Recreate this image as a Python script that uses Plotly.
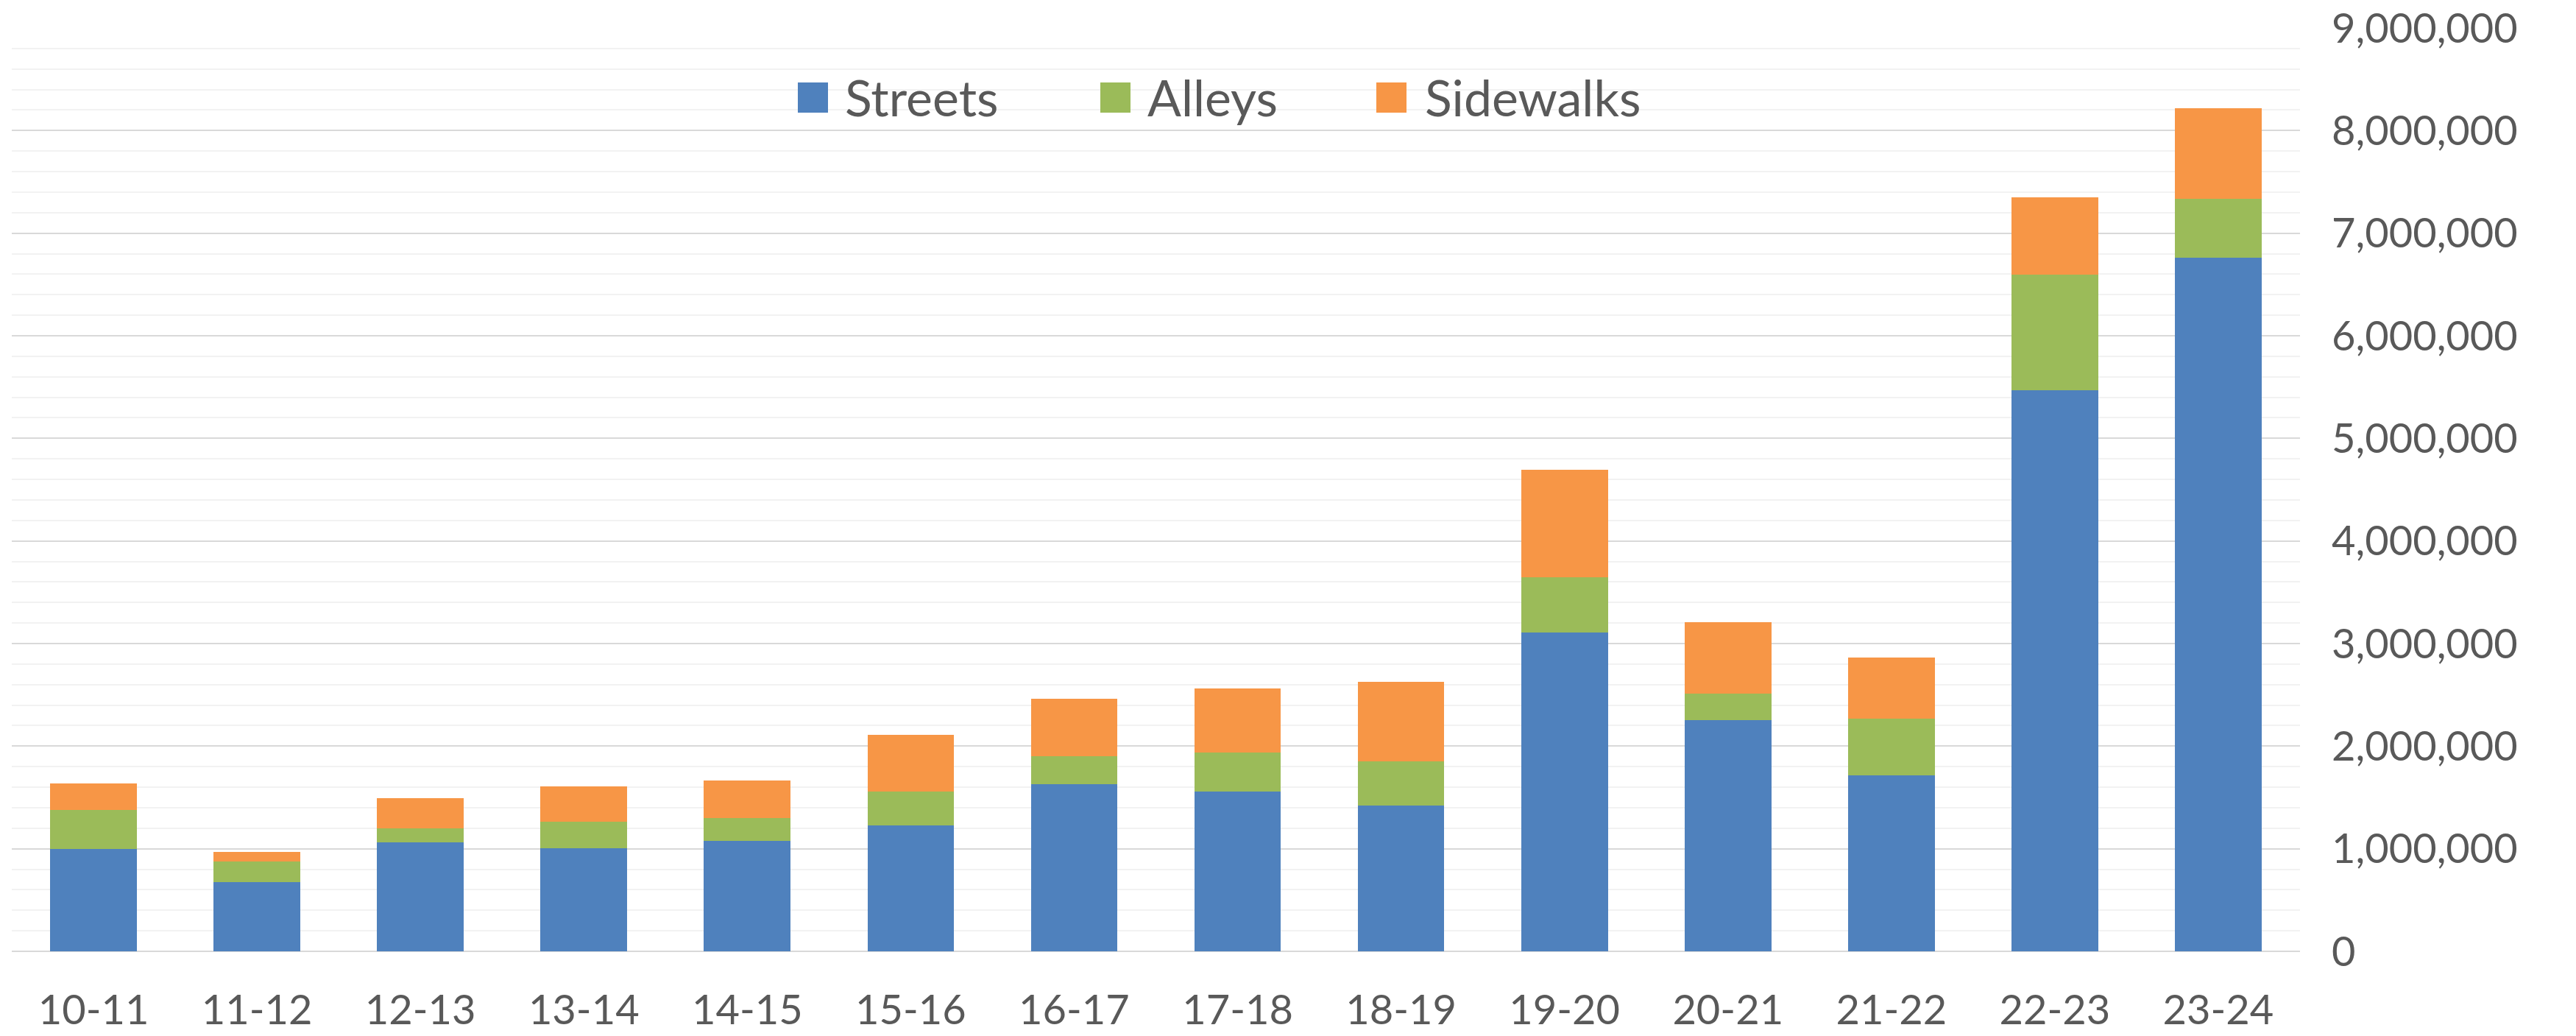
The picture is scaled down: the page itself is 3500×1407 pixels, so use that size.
import plotly.graph_objects as go

# ---- data ----
categories = ["10-11", "11-12", "12-13", "13-14", "14-15", "15-16", "16-17",
              "17-18", "18-19", "19-20", "20-21", "21-22", "22-23", "23-24"]
streets = [1000000, 674000, 1060000, 1002000, 1074000, 1229000, 1631000,
           1555000, 1424000, 3110000, 2253000, 1716000, 5468000, 6762000]
alleys = [381000, 202000, 142000, 258000, 224000, 326000, 271000,
          385000, 431000, 537000, 261000, 555000, 1129000, 570000]
sidewalks = [257000, 95000, 288000, 347000, 364000, 552000, 560000,
             622000, 774000, 1048000, 691000, 592000, 751000, 887000]
series_names = ["Streets", "Alleys", "Sidewalks"]
series_values = [streets, alleys, sidewalks]
series_colors = ["#4F81BD", "#9BBB59", "#F79646"]

# ---- layout geometry (pixels) ----
W, H = 3500, 1407
PL, PR, PT, PB = 16, 3125, 38, 1292   # plot area edges
FONT = "Lato"
TXT = "#595959"

fig = go.Figure()
for name, vals, col in zip(series_names, series_values, series_colors):
    fig.add_trace(go.Bar(x=categories, y=vals, name=name,
                         marker=dict(color=col, line=dict(width=0)),
                         showlegend=False))

def px_x(p):
    return (p - PL) / (PR - PL)

def px_y(p):
    return (PB - p) / (PB - PT)

# custom legend (large square swatches like the original)
legend_items = [(1084, 1146), (1495, 1557), (1870, 1934)]
shapes, annotations = [], []
for (sx, tx), name, col in zip(legend_items, series_names, series_colors):
    shapes.append(dict(type="rect", xref="paper", yref="paper",
                       x0=px_x(sx), x1=px_x(sx + 41), y0=px_y(153), y1=px_y(112),
                       fillcolor=col, line=dict(width=0), layer="above"))
    annotations.append(dict(xref="paper", yref="paper", x=px_x(tx), y=px_y(131),
                            xanchor="left", yanchor="middle", showarrow=False,
                            text=name, font=dict(family=FONT, size=68, color=TXT)))

fig.update_layout(
    width=W, height=H,
    margin=dict(l=PL, r=W - PR, t=PT, b=H - PB, pad=0, autoexpand=False),
    paper_bgcolor="white", plot_bgcolor="white",
    barmode="stack", bargap=0.47,
    font=dict(family=FONT, color=TXT, size=56),
    shapes=shapes, annotations=annotations,
    xaxis=dict(type="category", showgrid=False, showline=False, zeroline=False,
               ticks="", automargin=False,
               tickfont=dict(family=FONT, size=56, color=TXT),
               ticklabelstandoff=42),
    yaxis=dict(side="right", range=[0, 9000000], dtick=1000000, tick0=0,
               tickformat=",d", showline=False, ticks="", automargin=False,
               gridcolor="#D9D9D9", gridwidth=2,
               zeroline=True, zerolinecolor="#D9D9D9", zerolinewidth=2,
               minor=dict(dtick=200000, showgrid=True, gridcolor="#F2F2F2", gridwidth=2),
               tickfont=dict(family=FONT, size=56, color=TXT),
               ticklabelstandoff=42),
)

fig.write_html("out.html", config={"displayModeBar": False},
               post_script="document.body.style.margin='0';document.body.style.overflow='hidden';")
